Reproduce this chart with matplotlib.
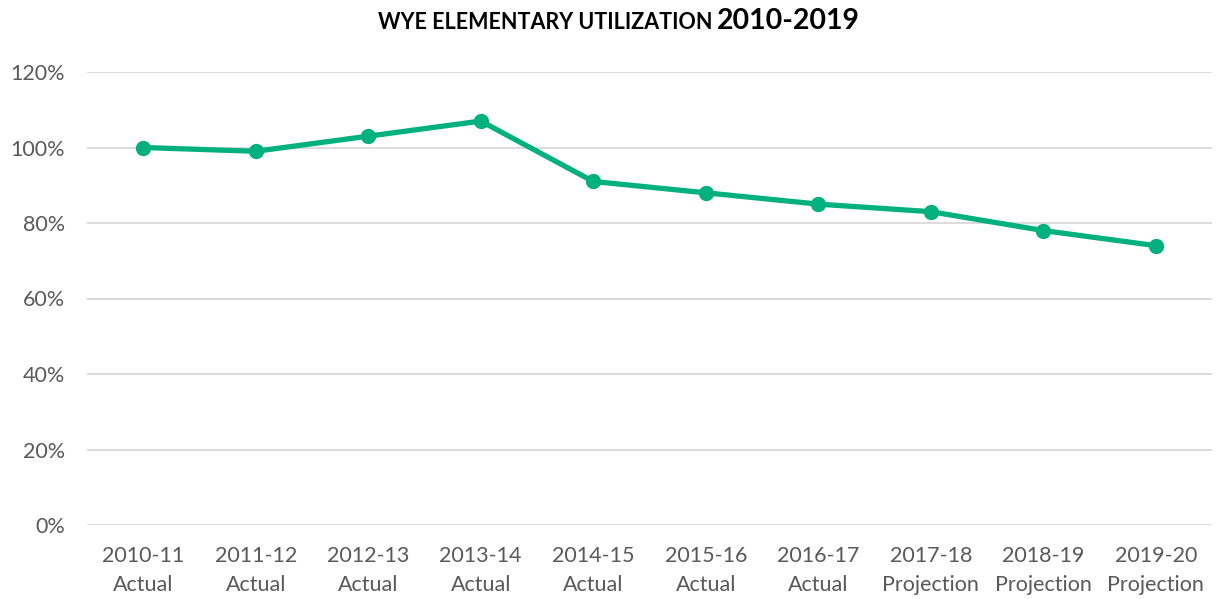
import matplotlib
matplotlib.use("Agg")
import matplotlib.pyplot as plt
from matplotlib.ticker import FuncFormatter

years = ["2010-11", "2011-12", "2012-13", "2013-14", "2014-15", "2015-16",
         "2016-17", "2017-18", "2018-19", "2019-20"]
kinds = ["Actual"] * 7 + ["Projection"] * 3
utilization = [100, 99, 103, 107, 91, 88, 85, 83, 78, 74]
yticks = [0, 20, 40, 60, 80, 100, 120]

plt.rcParams['font.family'] = ['Lato', 'DejaVu Sans']

fig = plt.figure(figsize=(12.17, 5.99), dpi=100)
ax = fig.add_axes([87/1217, 1-525/599, (1212-87)/1217, (525-72)/599])

x = list(range(len(years)))
ax.plot(x, utilization, color="#00B07F", lw=3.8, marker="o", markersize=10,
        solid_capstyle="round", zorder=3)

ax.set_xlim(-0.5, len(years) - 0.5)
ax.set_ylim(0, 120)
ax.set_yticks(yticks)
ax.yaxis.set_major_formatter(FuncFormatter(lambda v, p: f"{int(v)}%"))
ax.set_xticks(x)
ax.set_xticklabels([f"{a}\n{b}" for a, b in zip(years, kinds)], linespacing=1.6)
ax.tick_params(axis="both", length=0, labelsize=15.5, labelcolor="#595959")
ax.tick_params(axis="x", pad=15)
ax.tick_params(axis="y", pad=16)
ax.grid(axis="y", color="#D9D9D9", lw=1.3)
ax.set_axisbelow(True)
for s in ax.spines.values():
    s.set_visible(False)

# Title in two parts
fig.canvas.draw()
r = fig.canvas.get_renderer()
t1 = fig.text(0, 0, "WYE ELEMENTARY UTILIZATION ", fontsize=15.5, fontweight="bold",
              color="black", va="baseline", ha="left")
t2 = fig.text(0, 0, "2010-2019", fontsize=20.5, fontweight="bold",
              color="black", va="baseline", ha="left")
w1 = t1.get_window_extent(r).width
w2 = t2.get_window_extent(r).width
cx = 619
start = cx - (w1 + w2) / 2
t1.set_x(start / 1217)
t2.set_x((start + w1) / 1217)
t1.set_y(1 - 29/599)
t2.set_y(1 - 29/599)

fig.savefig("out.png", dpi=100)
